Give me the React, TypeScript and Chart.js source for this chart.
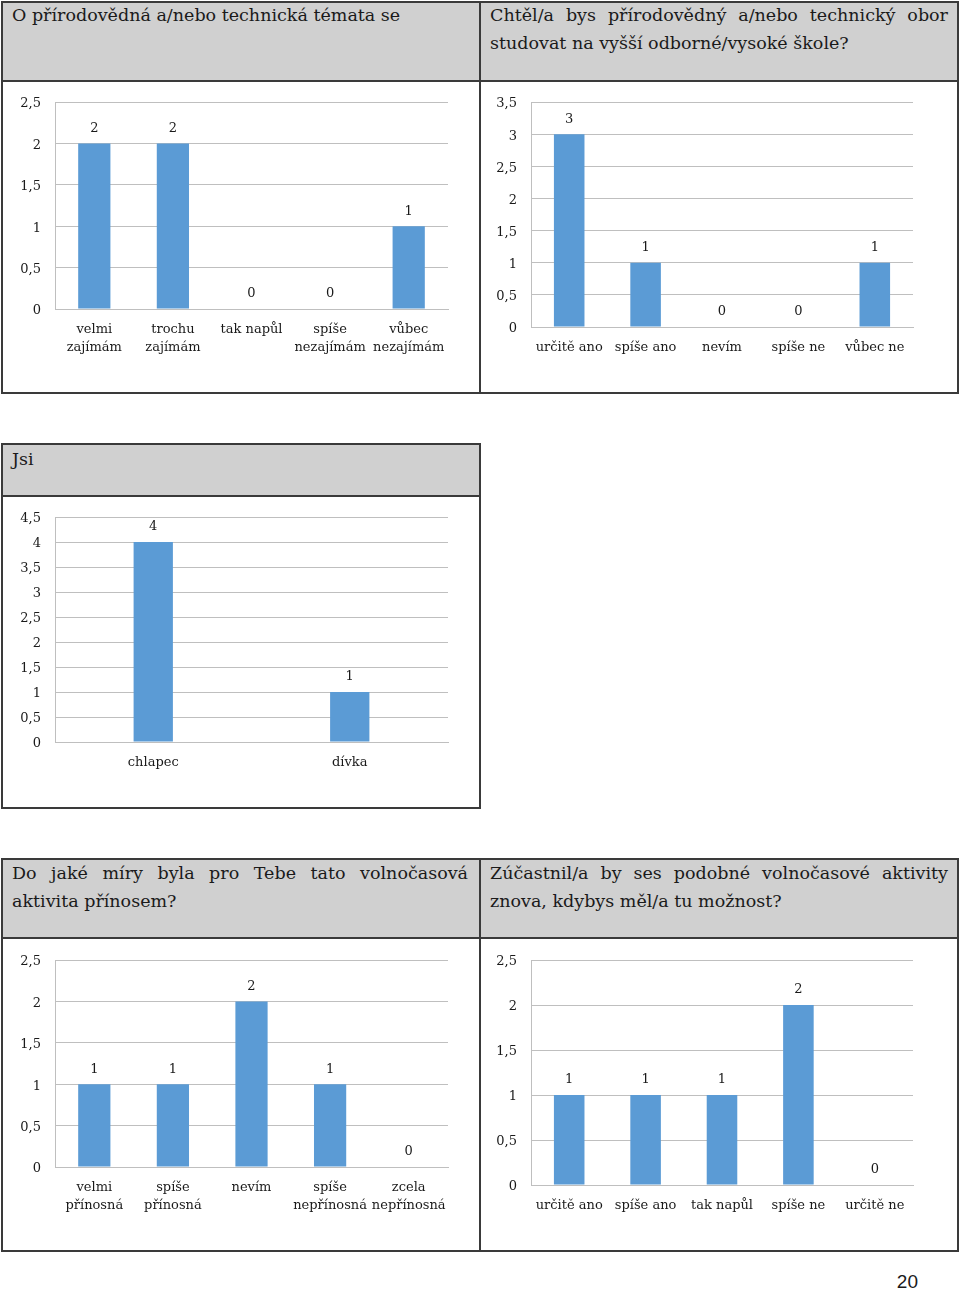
import React, { useEffect, useRef } from "react";
import { Chart, registerables } from "chart.js";

Chart.register(...registerables);

// ---- data ----
const TITLE1 = "O přírodovědná a/nebo technická témata se";
const CATS1: (string | string[])[] = [["velmi", "zajímám"], ["trochu", "zajímám"], "tak napůl", ["spíše", "nezajímám"], ["vůbec", "nezajímám"]];
const VALS1 = [2, 2, 0, 0, 1];

const TITLE2_L1 = "Chtěl/a bys přírodovědný a/nebo technický obor";
const TITLE2_L2 = "studovat na vyšší odborné/vysoké škole?";
const CATS2 = ["určitě ano", "spíše ano", "nevím", "spíše ne", "vůbec ne"];
const VALS2 = [3, 1, 0, 0, 1];

const TITLE3 = "Jsi";
const CATS3 = ["chlapec", "dívka"];
const VALS3 = [4, 1];

const TITLE4_L1 = "Do jaké míry byla pro Tebe tato volnočasová";
const TITLE4_L2 = "aktivita přínosem?";
const CATS4: (string | string[])[] = [["velmi", "přínosná"], ["spíše", "přínosná"], "nevím", ["spíše", "nepřínosná"], ["zcela", "nepřínosná"]];
const VALS4 = [1, 1, 2, 1, 0];

const TITLE5_L1 = "Zúčastnil/a by ses podobné volnočasové aktivity";
const TITLE5_L2 = "znova, kdybys měl/a tu možnost?";
const CATS5 = ["určitě ano", "spíše ano", "tak napůl", "spíše ne", "určitě ne"];
const VALS5 = [1, 1, 1, 2, 0];

const PAGE_NUMBER = "20";

// ---- styles ----
const BAR = "#5b9bd5";
const GRID = "#bfbfbf";
const TEXT = "#1a1a1a";
const BORDER = "#3a3a3a";
const HEAD_BG = "#d0d0d0";
const SERIF = "'DejaVu Serif', serif";
const Y_TICK_PAD = 14;
const TOP_OFFSET = 9 + Y_TICK_PAD; // half tick line height + tick padding

const valueLabels = {
  id: "valueLabels",
  afterDatasetsDraw(chart: any) {
    const ctx = chart.ctx;
    ctx.save();
    ctx.font = "13px " + SERIF;
    ctx.fillStyle = TEXT;
    ctx.textAlign = "center";
    ctx.textBaseline = "middle";
    const meta = chart.getDatasetMeta(0);
    const data = chart.data.datasets[0].data;
    meta.data.forEach((el: any, i: number) => {
      ctx.fillText(String(data[i]), el.x, el.y - 15);
    });
    ctx.restore();
  },
};

type Cfg = {
  labels: (string | string[])[];
  values: number[];
  max: number;
  x: number; w: number; bottom: number;
  plotLeft: number; plotRight: number; plotTop: number; plotBottom: number;
  barPct: number;
  labelPad: number;
};

function BarChart({ cfg }: { cfg: Cfg }) {
  const ref = useRef<HTMLCanvasElement>(null);
  const y = cfg.plotTop - TOP_OFFSET;
  const h = cfg.bottom - y;
  useEffect(() => {
    const font = { family: SERIF, size: 13, lineHeight: "18px" };
    const chart = new Chart(ref.current as HTMLCanvasElement, {
      type: "bar",
      data: {
        labels: cfg.labels as any,
        datasets: [
          {
            data: cfg.values,
            backgroundColor: BAR,
            barPercentage: cfg.barPct,
            categoryPercentage: 1,
          },
        ],
      },
      options: {
        responsive: false,
        animation: false,
        devicePixelRatio: 1,
        layout: {
          padding: {
            top: 0,
            right: cfg.x + cfg.w - cfg.plotRight,
            left: 0,
            bottom: 0,
          },
        },
        plugins: { legend: { display: false }, tooltip: { enabled: false } },
        scales: {
          x: {
            grid: { display: false, drawTicks: false },
            border: { display: true, color: GRID },
            ticks: { font, color: TEXT, padding: cfg.labelPad, maxRotation: 0, autoSkip: false },
            afterFit: (s: any) => {
              s.height = cfg.bottom - cfg.plotBottom;
            },
          },
          y: {
            min: 0,
            max: cfg.max,
            ticks: {
              stepSize: 0.5,
              padding: Y_TICK_PAD,
              labelOffset: 2,
              font,
              color: TEXT,
              callback: (v: any) => String(v).replace(".", ","),
            },
            grid: { color: GRID, drawTicks: false },
            border: { display: true, color: GRID },
            afterFit: (s: any) => {
              s.width = cfg.plotLeft - cfg.x;
            },
          },
        },
      },
      plugins: [valueLabels],
    });
    return () => chart.destroy();
  }, []);
  return (
    <canvas
      ref={ref}
      width={cfg.w}
      height={h}
      style={{ position: "absolute", left: cfg.x, top: y, width: cfg.w, height: h }}
    />
  );
}

const abs = (l: number, t: number, w: number, h: number, extra: any = {}) => ({
  position: "absolute" as const,
  left: l,
  top: t,
  width: w,
  height: h,
  boxSizing: "border-box" as const,
  ...extra,
});

const headText = {
  fontFamily: SERIF,
  fontSize: 17.5,
  lineHeight: "28px",
  color: TEXT,
  whiteSpace: "nowrap" as const,
};

function Justified({ l, t, w, line1, line2 }: { l: number; t: number; w: number; line1: string; line2?: string }) {
  return (
    <div style={{ position: "absolute", left: l, top: t, width: w }}>
      <div style={{ ...headText, textAlign: "justify", textAlignLast: line2 ? "justify" : "left" } as any}>{line1}</div>
      {line2 ? <div style={headText}>{line2}</div> : null}
    </div>
  );
}

export default function App() {
  return (
    <div style={{ position: "absolute", left: 0, top: 0, width: 960, height: 1292, background: "#fff", overflow: "hidden" }}>
      {/* Table 1 */}
      <div style={abs(1, 1, 958, 81, { background: HEAD_BG })} />
      <div style={abs(1, 1, 958, 393, { border: `2px solid ${BORDER}` })} />
      <div style={abs(1, 80, 958, 2, { background: BORDER })} />
      <div style={abs(479, 1, 2, 393, { background: BORDER })} />
      <Justified l={12} t={1} w={456} line1={TITLE1} />
      <Justified l={490} t={1} w={458} line1={TITLE2_L1} line2={TITLE2_L2} />

      {/* Table 2 */}
      <div style={abs(1, 443, 480, 53, { background: HEAD_BG })} />
      <div style={abs(1, 443, 480, 366, { border: `2px solid ${BORDER}` })} />
      <div style={abs(1, 495, 480, 2, { background: BORDER })} />
      <Justified l={12} t={445} w={456} line1={TITLE3} />

      {/* Table 3 */}
      <div style={abs(1, 858, 958, 81, { background: HEAD_BG })} />
      <div style={abs(1, 858, 958, 394, { border: `2px solid ${BORDER}` })} />
      <div style={abs(1, 937, 958, 2, { background: BORDER })} />
      <div style={abs(479, 858, 2, 394, { background: BORDER })} />
      <Justified l={12} t={859} w={456} line1={TITLE4_L1} line2={TITLE4_L2} />
      <Justified l={490} t={859} w={458} line1={TITLE5_L1} line2={TITLE5_L2} />

      <BarChart
        cfg={{ labels: CATS1, values: VALS1, max: 2.5, x: 5, w: 455, bottom: 368, plotLeft: 55, plotRight: 448, plotTop: 102, plotBottom: 309, barPct: 0.41, labelPad: 12 }}
      />
      <BarChart
        cfg={{ labels: CATS2, values: VALS2, max: 3.5, x: 483, w: 458, bottom: 368, plotLeft: 531, plotRight: 913, plotTop: 102, plotBottom: 327, barPct: 0.4, labelPad: 12 }}
      />
      <BarChart
        cfg={{ labels: CATS3, values: VALS3, max: 4.5, x: 5, w: 455, bottom: 793, plotLeft: 55, plotRight: 448, plotTop: 517, plotBottom: 742, barPct: 0.2, labelPad: 12 }}
      />
      <BarChart
        cfg={{ labels: CATS4, values: VALS4, max: 2.5, x: 5, w: 455, bottom: 1226, plotLeft: 55, plotRight: 448, plotTop: 960, plotBottom: 1167, barPct: 0.41, labelPad: 12 }}
      />
      <BarChart
        cfg={{ labels: CATS5, values: VALS5, max: 2.5, x: 483, w: 458, bottom: 1226, plotLeft: 531, plotRight: 913, plotTop: 960, plotBottom: 1185, barPct: 0.4, labelPad: 12 }}
      />

      <div style={{ position: "absolute", left: 880, top: 1270, width: 38, textAlign: "right", fontFamily: "'Liberation Sans', sans-serif", fontSize: 19, lineHeight: "24px", color: TEXT }}>
        {PAGE_NUMBER}
      </div>
    </div>
  );
}
